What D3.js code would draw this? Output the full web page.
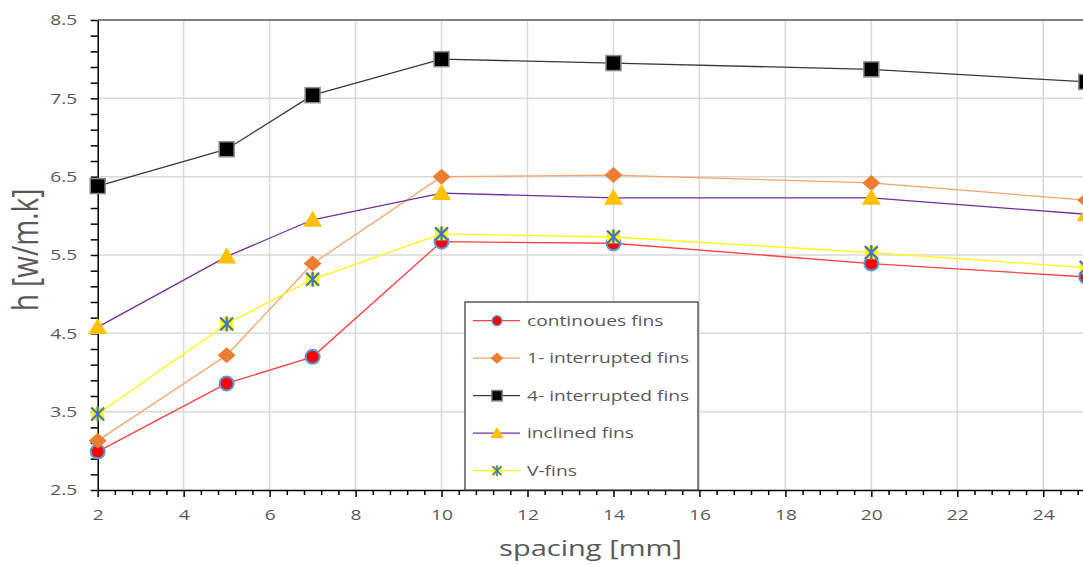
<!DOCTYPE html>
<html>
<head>
    <title>h vs spacing</title>
    <meta charset="utf-8" />
    <style>
        body { margin: 0; background: #fff; }
        svg { display: block; }
        .axis path, .axis line { stroke: #000; stroke-width: 1.5; }
        .axis text, text.label {
            font-family: "Open Sans", sans-serif;
            fill: #595959;
        }
    </style>
    <script src="https://d3js.org/d3.v7.min.js"></script>
</head>
<body>
<script>

// data
let spacing = [2, 5, 7, 10, 14, 20, 25];
let continuous = [2.99, 3.86, 4.20, 5.67, 5.65, 5.39, 5.22];
let interrupted1 = [3.13, 4.22, 5.39, 6.50, 6.52, 6.42, 6.20];
let interrupted4 = [6.38, 6.85, 7.54, 8.00, 7.95, 7.87, 7.71];
let inclined = [4.58, 5.48, 5.95, 6.29, 6.23, 6.23, 6.02];
let vFins = [3.47, 4.62, 5.19, 5.77, 5.73, 5.53, 5.34];

let seriesNames = ["continoues fins", "1- interrupted fins", "4- interrupted fins", "inclined fins", "V-fins"];
let seriesValues = [continuous, interrupted1, interrupted4, inclined, vFins];
let lineColors = ["#ff4040", "#f4a36c", "#3a3a3a", "#7030a0", "#ffff00"];
let markerTypes = ["circle", "diamond", "square", "triangle", "star"];

let xTicks = [2, 4, 6, 8, 10, 12, 14, 16, 18, 20, 22, 24];
let yTicks = [2.5, 3.5, 4.5, 5.5, 6.5, 7.5, 8.5];

let W = 1083, H = 564;
let plotLeft = 97.7, plotTop = 20, plotBottom = 490;
let unitX = 42.98;   // px per mm; plot runs past the right edge

let svg = d3.select("body")
    .append("svg")
    .attr("width", W)
    .attr("height", H);

let xScale = d3.scaleLinear()
    .domain([2, 26])
    .range([plotLeft, plotLeft + 24 * unitX]);

let yScale = d3.scaleLinear()
    .domain([2.5, 8.5])
    .range([plotBottom, plotTop]);

// gridlines
svg.append("g")
    .selectAll("line")
    .data(xTicks.slice(1))
    .enter()
    .append("line")
    .attr("x1", d => xScale(d)).attr("x2", d => xScale(d))
    .attr("y1", plotTop).attr("y2", plotBottom)
    .attr("stroke", "#d9d9d9")
    .attr("stroke-width", 1.5);

svg.append("g")
    .selectAll("line")
    .data(yTicks.slice(1, -1))
    .enter()
    .append("line")
    .attr("x1", plotLeft).attr("x2", xScale(26))
    .attr("y1", d => yScale(d)).attr("y2", d => yScale(d))
    .attr("stroke", "#d9d9d9")
    .attr("stroke-width", 1.5);

// top frame
svg.append("line")
    .attr("x1", plotLeft).attr("x2", xScale(26))
    .attr("y1", yScale(8.5)).attr("y2", yScale(8.5))
    .attr("stroke", "#595959")
    .attr("stroke-width", 1.5);

// minor ticks
let xMinor = d3.range(2, 25.7, 0.4).filter(v => Math.abs(v / 2 - Math.round(v / 2)) > 0.01);
let yMinor = d3.range(2.5, 8.51, 0.2).filter(v => Math.abs((v - 2.5) - Math.round(v - 2.5)) > 0.01);

svg.append("g")
    .attr("class", "axis")
    .attr("transform", "translate(0," + plotBottom + ")")
    .call(d3.axisBottom(xScale).tickValues(xMinor).tickSize(5).tickFormat(""))
    .call(g => g.select(".domain").remove());

svg.append("g")
    .attr("class", "axis")
    .attr("transform", "translate(" + plotLeft + ",0)")
    .call(d3.axisLeft(yScale).tickValues(yMinor).tickSize(7).tickFormat(""))
    .call(g => g.select(".domain").remove());

// main axes
svg.append("g")
    .attr("class", "axis")
    .attr("transform", "translate(0," + plotBottom + ")")
    .call(d3.axisBottom(xScale).tickValues(xTicks).tickSize(7).tickSizeOuter(0))
    .call(g => g.selectAll("text")
        .attr("y", 25).attr("dy", "0.35em")
        .attr("font-size", 15)
        .attr("transform", "scale(1.28,1)"));

svg.append("g")
    .attr("class", "axis")
    .attr("transform", "translate(" + plotLeft + ",0)")
    .call(d3.axisLeft(yScale).tickValues(yTicks).tickSize(7).tickSizeOuter(0)
        .tickFormat(d3.format(".1f")))
    .call(g => g.selectAll("text")
        .attr("x", -16)
        .attr("font-size", 15)
        .attr("transform", "scale(1.28,1)"));

// markers
function drawMarker(g, type, k) {
    if (type === "circle") {
        g.append("circle").attr("r", 7 * k)
            .attr("fill", "#ff0000").attr("stroke", "#5b9bd5").attr("stroke-width", 2 * k);
    } else if (type === "diamond") {
        g.append("polygon")
            .attr("points", [[0, -8], [9, 0], [0, 8], [-9, 0]].map(p => p.map(v => v * k).join(",")).join(" "))
            .attr("fill", "#ed7d31");
    } else if (type === "square") {
        g.append("rect")
            .attr("x", -7.5 * k).attr("y", -7.5 * k)
            .attr("width", 15 * k).attr("height", 15 * k)
            .attr("fill", "#000").attr("stroke", "#8c8c8c").attr("stroke-width", 1.5);
    } else if (type === "triangle") {
        g.append("polygon")
            .attr("points", [[0, -9], [9.5, 7], [-9.5, 7]].map(p => p.map(v => v * k).join(",")).join(" "))
            .attr("fill", "#ffc000");
    } else if (type === "star") {
        g.append("rect")
            .attr("x", -6.5 * k).attr("y", -6.5 * k)
            .attr("width", 13 * k).attr("height", 13 * k)
            .attr("fill", "#ffff00");
        let s = 6.5 * k;
        [[-s, -s, s, s], [-s, s, s, -s], [0, -s - 1, 0, s + 1]].forEach(l => {
            g.append("line")
                .attr("x1", l[0]).attr("y1", l[1]).attr("x2", l[2]).attr("y2", l[3])
                .attr("stroke", "#4472c4").attr("stroke-width", 2.2 * k);
        });
    }
}

let line = d3.line()
    .x((d, i) => xScale(spacing[i]))
    .y(d => yScale(d));

seriesValues.forEach((vals, s) => {
    svg.append("path")
        .datum(vals)
        .attr("d", line)
        .attr("fill", "none")
        .attr("stroke", lineColors[s])
        .attr("stroke-width", 1.3);
});

seriesValues.forEach((vals, s) => {
    vals.forEach((v, i) => {
        let g = svg.append("g")
            .attr("transform", "translate(" + xScale(spacing[i]) + "," + yScale(v) + ")");
        drawMarker(g, markerTypes[s], 1);
    });
});

// legend
let legend = svg.append("g");
legend.append("rect")
    .attr("x", 465).attr("y", 302)
    .attr("width", 233).attr("height", plotBottom - 302)
    .attr("fill", "#fff")
    .attr("stroke", "#404040")
    .attr("stroke-width", 1.3);

seriesNames.forEach((name, s) => {
    let y = 320.7 + s * 37.5;
    legend.append("line")
        .attr("x1", 473).attr("x2", 520)
        .attr("y1", y).attr("y2", y)
        .attr("stroke", lineColors[s])
        .attr("stroke-width", 1.3);
    drawMarker(legend.append("g").attr("transform", "translate(497," + y + ")"), markerTypes[s], 0.7);
    legend.append("text")
        .attr("class", "label")
        .attr("transform", "translate(527," + y + ") scale(1.28,1)")
        .attr("dy", "0.35em")
        .attr("font-size", 15)
        .text(name);
});

// axis titles
svg.append("text")
    .attr("class", "label")
    .attr("transform", "translate(590.5,548) scale(1.32,1)")
    .attr("text-anchor", "middle")
    .attr("dy", "0.35em")
    .attr("font-size", 22)
    .text("spacing [mm]");

svg.append("text")
    .attr("class", "label")
    .attr("transform", "translate(25,250) rotate(-90) scale(1,1.3)")
    .attr("text-anchor", "middle")
    .attr("dy", "0.35em")
    .attr("font-size", 28)
    .text("h [w/m.k]");

</script>
</body>
</html>
